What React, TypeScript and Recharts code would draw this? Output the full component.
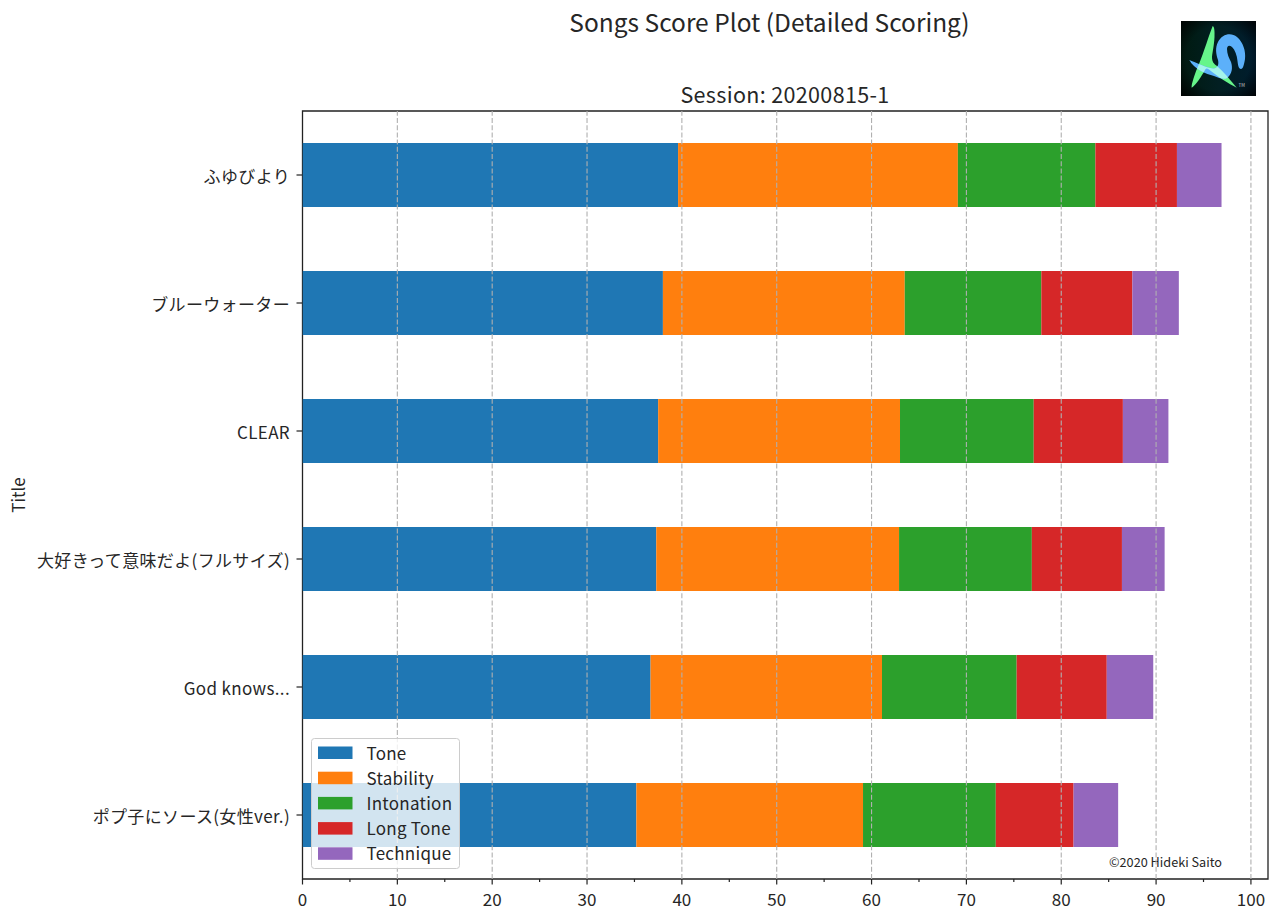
import React from "react";
import { BarChart, Bar, XAxis, YAxis, ReferenceLine, ReferenceArea, Legend } from "recharts";

const FONT = '"Noto Sans CJK JP", "Noto Sans", sans-serif';
const titles = ["ふゆびより", "ブルーウォーター", "CLEAR", "大好きって意味だよ(フルサイズ)", "God knows...", "ポプ子にソース(女性ver.)"];
const tone = [39.6, 38.0, 37.5, 37.3, 36.7, 35.2];
const stability = [29.5, 25.5, 25.5, 25.6, 24.4, 23.9];
const intonation = [14.5, 14.4, 14.1, 14.0, 14.2, 14.0];
const longTone = [8.6, 9.6, 9.4, 9.5, 9.5, 8.2];
const technique = [4.7, 4.9, 4.8, 4.5, 4.9, 4.7];
const seriesNames = ["Tone", "Stability", "Intonation", "Long Tone", "Technique"];
const seriesColors = ["#1f77b4", "#ff7f0e", "#2ca02c", "#d62728", "#9467bd"];
const seriesValues = [tone, stability, intonation, longTone, technique];
const allTicks = [0, 5, 10, 15, 20, 25, 30, 35, 40, 45, 50, 55, 60, 65, 70, 75, 80, 85, 90, 95, 100];
const gridTicks = [10, 20, 30, 40, 50, 60, 70, 80, 90, 100];
const xMax = 101.8;

const rows = titles.map((title, i) => {
  const row: Record<string, string | number> = { title };
  seriesNames.forEach((n, s) => { row[n] = seriesValues[s][i]; });
  return row;
});

const XTick = (p: any) => {
  const major = p.payload.value % 10 === 0;
  return (
    <g>
      <line x1={p.x} x2={p.x} y1={879} y2={major ? 884.5 : 882} stroke="#222" strokeWidth={1.2} />
      {major && (
        <text x={p.x} y={905.5} textAnchor="middle" fontSize={17} fontFamily={FONT} fill="#262626">{p.payload.value}</text>
      )}
    </g>
  );
};

const YTick = (p: any) => (
  <g>
    <line x1={302} x2={296.5} y1={p.y} y2={p.y} stroke="#222" strokeWidth={1.2} />
    <text x={290} y={p.y + 7.5} textAnchor="end" fontSize={17} letterSpacing={0.35} fontFamily={FONT} fill="#262626">{p.payload.value}</text>
  </g>
);

const LegendBox = () => (
  <svg width={150} height={132} style={{ display: "block", overflow: "visible" }}>
    <rect x={0.5} y={0.5} width={148} height={130} rx={3} fill="#fff" fillOpacity={0.8} stroke="#ccc" strokeWidth={1} />
    {seriesNames.map((n, i) => (
      <g key={n}>
        <rect x={7} y={8.5 + i * 25.2} width={34.5} height={12.5} fill={seriesColors[i]} />
        <text x={55.5} y={21.5 + i * 25.2} fontSize={17} letterSpacing={0.25} fontFamily={FONT} fill="#262626">{n}</text>
      </g>
    ))}
  </svg>
);

const greenPath = "M31.7 5 C33.5 6 33.7 10 33.5 16 C33 25 31.5 31 31 36 C31 41 33 43 36 45 C43 51 50 60 55.7 66.7 C48 63 36 55 28 48.5 C26 47 25 47 24 49 C20 56 15 64 10.7 66.7 C10 64 14 52 18 43 C23 31 28 14 31.7 5 Z";
const bluePath = "M8.3 39 C14 41 24 46 32 47.5 C37 47.5 38 43 37 39 C35 33 34 27 37 21 C41 13 50 11 56 16 C62 21 65 30 64 38 C63 44 62 48 60 48 C57.5 48 57 44 56.5 40 C56 34 54 29 51 26 C48 23.5 46 25 46 28 C46 33 48 37 50 41 C52 47 51 53 46 57 C43 59 38 57 33 55 C25 53 13 48 8.3 39 Z";

const Logo = () => (
  <svg width={75} height={75} viewBox="0 0 75 75" style={{ position: "absolute", left: 1181, top: 21 }}>
    <defs>
      <linearGradient id="lg" x1="0" x2="1" y1="0" y2="0">
        <stop offset="0%" stopColor="#001a10" />
        <stop offset="50%" stopColor="#021f22" />
        <stop offset="100%" stopColor="#001c2e" />
      </linearGradient>
      <radialGradient id="lv" cx="50%" cy="50%" r="72%">
        <stop offset="60%" stopColor="#000" stopOpacity={0} />
        <stop offset="100%" stopColor="#000" stopOpacity={0.95} />
      </radialGradient>
      <clipPath id="gc"><path d={greenPath} /></clipPath>
      <filter id="soft"><feGaussianBlur stdDeviation="0.45" /></filter>
    </defs>
    <rect width={75} height={75} fill="url(#lg)" />
    <rect width={75} height={75} fill="url(#lv)" />
    <g filter="url(#soft)">
      <path d={greenPath} fill="#66f58a" />
      <path d={bluePath} fill="#5cb0fa" />
      <path d={bluePath} fill="#a4f4ea" clipPath="url(#gc)" />
    </g>
    <text x={57.5} y={66} fontSize={4.5} fill="#ccc" fontFamily={FONT}>TM</text>
  </svg>
);

export default function App() {
  return (
    <div style={{ position: "absolute", left: 0, top: 0, width: 1280, height: 920, background: "#fff", fontFamily: FONT }}>
      <BarChart
        layout="vertical"
        width={1280}
        height={920}
        data={rows}
        barCategoryGap="25%"
        margin={{ left: 2.5, top: 111, right: 12, bottom: 0 }}
      >
        <XAxis type="number" domain={[0, xMax]} ticks={allTicks} tick={<XTick />} tickLine={false} axisLine={false} interval={0} allowDataOverflow height={41} />
        <YAxis type="category" dataKey="title" width={300} tick={<YTick />} tickLine={false} axisLine={false} interval={0} />
        {seriesNames.map((n, i) => (
          <Bar key={n} dataKey={n} stackId="a" fill={seriesColors[i]} isAnimationActive={false} legendType="rect" />
        ))}
        {gridTicks.map((t) => (
          <ReferenceLine key={t} x={t} stroke="#b0b0b0" strokeWidth={1.1} strokeDasharray="5 2.2" />
        ))}
        <ReferenceArea x1={0} x2={xMax} fill="none" fillOpacity={0} stroke="#222" strokeWidth={1.3} ifOverflow="extendDomain" />
        <Legend
          layout="vertical"
          align="center"
          verticalAlign="middle"
          content={<LegendBox />}
          wrapperStyle={{ position: "absolute", left: 311, top: 738, width: 150, height: 132, bottom: "auto", right: "auto" }}
        />
        <text x={769.5} y={32} textAnchor="middle" fontSize={24.5} fontFamily={FONT} fill="#262626">Songs Score Plot (Detailed Scoring)</text>
        <text x={785} y={103} textAnchor="middle" fontSize={21.5} letterSpacing={0.35} fontFamily={FONT} fill="#262626">Session: 20200815-1</text>
        <text x={25} y={495} textAnchor="middle" fontSize={17} fontFamily={FONT} fill="#262626" transform="rotate(-90 25 495)">Title</text>
        <text x={1109} y={867} fontSize={12.7} fontFamily={FONT} fill="#262626">©2020 Hideki Saito</text>
      </BarChart>
      <Logo />
    </div>
  );
}
